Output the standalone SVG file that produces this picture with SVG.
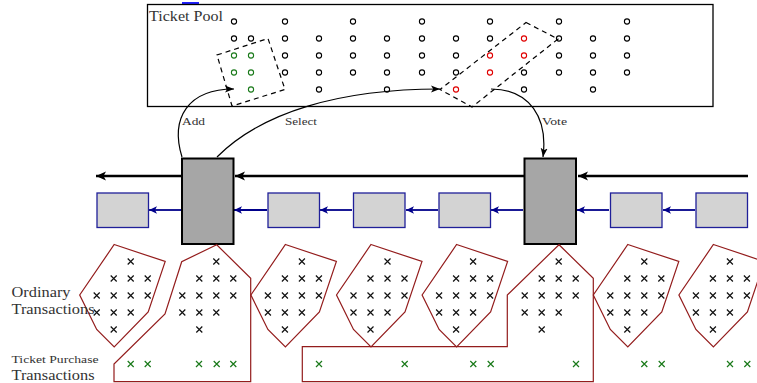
<svg xmlns="http://www.w3.org/2000/svg" xmlns:xlink="http://www.w3.org/1999/xlink" width="757" height="383" viewBox="0 0 757 383">
<style>
.lbl{font-family:"Liberation Serif","DejaVu Serif",serif;fill:#333}
.c{fill:none;stroke:#000;stroke-width:1.1}
.cg{fill:none;stroke:#1a7a1a;stroke-width:1.1}
.cr{fill:none;stroke:#e00000;stroke-width:1.1}
.x{stroke:#111;stroke-width:1.2;fill:none}
.xg{stroke:#1a7a1a;stroke-width:1.2;fill:none}
.red{fill:none;stroke:#931c1c;stroke-width:1.2;stroke-linejoin:miter}
.chain{stroke:#000;stroke-width:2.6;fill:none}
.link{stroke:#00008b;stroke-width:1.8;fill:none}
.blk{fill:#a6a6a6;stroke:#000;stroke-width:2}
.box{fill:#d3d3d3;stroke:#1f1f99;stroke-width:1.3}
.dash{fill:none;stroke:#000;stroke-width:1.2;stroke-dasharray:5,4}
.arc{fill:none;stroke:#000;stroke-width:1.2}
</style>
<defs>
<marker id="ah" markerUnits="userSpaceOnUse" markerWidth="12" markerHeight="10" refX="10" refY="5" orient="auto"><path d="M0,0.5 L10,5 L0,9.5 L2.5,5 z" fill="#000"/></marker>
<marker id="ahb" markerUnits="userSpaceOnUse" markerWidth="10" markerHeight="8" refX="8" refY="4" orient="auto"><path d="M0,0.3 L8,4 L0,7.7 L2,4 z" fill="#00008b"/></marker>
<marker id="aht" markerUnits="userSpaceOnUse" markerWidth="10" markerHeight="8" refX="9" refY="4" orient="auto"><path d="M0,0.5 L9,4 L0,7.5 L2.2,4 z" fill="#000"/></marker>
<path id="xm" d="M-3,-3 L3,3 M-3,3 L3,-3"/>
<g id="xs" class="x">
<use xlink:href="#xm" x="34" y="261.5"/>
<use xlink:href="#xm" x="17" y="278.5"/><use xlink:href="#xm" x="34" y="278.5"/><use xlink:href="#xm" x="51" y="278.5"/>
<use xlink:href="#xm" x="0" y="295.5"/><use xlink:href="#xm" x="17" y="295.5"/><use xlink:href="#xm" x="34" y="295.5"/><use xlink:href="#xm" x="51" y="295.5"/>
<use xlink:href="#xm" x="0" y="312.5"/><use xlink:href="#xm" x="17" y="312.5"/><use xlink:href="#xm" x="34" y="312.5"/>
<use xlink:href="#xm" x="17" y="329.5"/>
</g>
<g id="pent">
<polygon class="red" points="17.5,244.5 68.5,261.5 51.5,312 17.5,347 0,329.5 -17,295"/>
<use xlink:href="#xs"/>
</g>
</defs>
<rect width="757" height="383" fill="#fff"/>

<g id="ticket-pool">
<line x1="182" y1="3" x2="199" y2="3" stroke="#2020ff" stroke-width="2"/>
<rect x="147.5" y="4.5" width="565.5" height="102" fill="none" stroke="#000" stroke-width="1.3"/>
<text class="lbl" x="149" y="21" font-size="14" textLength="74" lengthAdjust="spacingAndGlyphs">Ticket Pool</text>
<g class="c">
<circle cx="234" cy="21.5" r="2.6"/><circle cx="285" cy="21.5" r="2.6"/><circle cx="353" cy="21.5" r="2.6"/><circle cx="422" cy="21.5" r="2.6"/><circle cx="490" cy="21.5" r="2.6"/><circle cx="559" cy="21.5" r="2.6"/><circle cx="627" cy="21.5" r="2.6"/>
<circle cx="234" cy="38.5" r="2.6"/><circle cx="251" cy="38.5" r="2.6"/><circle cx="285" cy="38.5" r="2.6"/><circle cx="319" cy="38.5" r="2.6"/><circle cx="353" cy="38.5" r="2.6"/><circle cx="387" cy="38.5" r="2.6"/><circle cx="422" cy="38.5" r="2.6"/><circle cx="456" cy="38.5" r="2.6"/><circle cx="490" cy="38.5" r="2.6"/><circle cx="559" cy="38.5" r="2.6"/><circle cx="593" cy="38.5" r="2.6"/><circle cx="627" cy="38.5" r="2.6"/>
<circle cx="285" cy="55.5" r="2.6"/><circle cx="319" cy="55.5" r="2.6"/><circle cx="353" cy="55.5" r="2.6"/><circle cx="387" cy="55.5" r="2.6"/><circle cx="422" cy="55.5" r="2.6"/><circle cx="456" cy="55.5" r="2.6"/><circle cx="559" cy="55.5" r="2.6"/><circle cx="593" cy="55.5" r="2.6"/><circle cx="627" cy="55.5" r="2.6"/>
<circle cx="285" cy="72.5" r="2.6"/><circle cx="319" cy="72.5" r="2.6"/><circle cx="353" cy="72.5" r="2.6"/><circle cx="387" cy="72.5" r="2.6"/><circle cx="422" cy="72.5" r="2.6"/><circle cx="456" cy="72.5" r="2.6"/><circle cx="524" cy="72.5" r="2.6"/><circle cx="559" cy="72.5" r="2.6"/><circle cx="593" cy="72.5" r="2.6"/><circle cx="627" cy="72.5" r="2.6"/>
<circle cx="319" cy="89.5" r="2.6"/><circle cx="387" cy="89.5" r="2.6"/><circle cx="524" cy="89.5" r="2.6"/><circle cx="593" cy="89.5" r="2.6"/>
</g>
<g class="cg">
<circle cx="234" cy="55.5" r="2.6"/><circle cx="251" cy="55.5" r="2.6"/><circle cx="234" cy="72.5" r="2.6"/><circle cx="251" cy="72.5" r="2.6"/><circle cx="251" cy="89.5" r="2.6"/>
</g>
<g class="cr">
<circle cx="524" cy="38.5" r="2.6"/><circle cx="490" cy="55.5" r="2.6"/><circle cx="524" cy="55.5" r="2.6"/><circle cx="490" cy="72.5" r="2.6"/><circle cx="456" cy="89.5" r="2.6"/>
</g>
<polygon class="dash" points="217,55 268,38.5 285,89.5 232,106"/>
<polygon class="dash" points="526,22.5 558,39 472,107 440,89.5"/>
</g>

<g id="connectors">
<path class="arc" d="M182,157 C170,118 188,89 234,89" marker-end="url(#aht)"/>
<path class="arc" d="M217,157 C262,112 340,89 440,89" marker-end="url(#aht)"/>
<path class="arc" d="M491,89 C530,89 548,118 543,157" marker-end="url(#aht)"/>
<text class="lbl" x="182" y="125" font-size="11" textLength="23" lengthAdjust="spacingAndGlyphs">Add</text>
<text class="lbl" x="285" y="125" font-size="11" textLength="32" lengthAdjust="spacingAndGlyphs">Select</text>
<text class="lbl" x="542" y="125" font-size="11" textLength="25" lengthAdjust="spacingAndGlyphs">Vote</text>
<path class="chain" d="M748,176 L578,176" marker-end="url(#ah)"/>
<path class="chain" d="M524,176 L235,176" marker-end="url(#ah)"/>
<path class="chain" d="M181,176 L96,176" marker-end="url(#ah)"/>
<path class="link" d="M181,210 L149,210" marker-end="url(#ahb)"/>
<path class="link" d="M267,210 L234,210" marker-end="url(#ahb)"/>
<path class="link" d="M352,210 L320,210" marker-end="url(#ahb)"/>
<path class="link" d="M438,210 L406,210" marker-end="url(#ahb)"/>
<path class="link" d="M523,210 L491,210" marker-end="url(#ahb)"/>
<path class="link" d="M609,210 L577,210" marker-end="url(#ahb)"/>
<path class="link" d="M695,210 L663,210" marker-end="url(#ahb)"/>
</g>

<g id="key-block-1"><rect class="blk" x="182" y="158.5" width="51.5" height="85.5"/></g>
<g id="key-block-2"><rect class="blk" x="524.5" y="158.5" width="51.5" height="85.5"/></g>
<g id="box-0"><rect class="box" x="97" y="193" width="51.5" height="34.5"/></g>
<g id="box-2"><rect class="box" x="268" y="193" width="51.5" height="34.5"/></g>
<g id="box-3"><rect class="box" x="353.5" y="193" width="51.5" height="34.5"/></g>
<g id="box-4"><rect class="box" x="439" y="193" width="51.5" height="34.5"/></g>
<g id="box-6"><rect class="box" x="610.5" y="193" width="51.5" height="34.5"/></g>
<g id="box-7"><rect class="box" x="696" y="193" width="51.5" height="34.5"/></g>

<g id="txs-0"><use xlink:href="#pent" x="96.7"/></g>
<g id="txs-2"><use xlink:href="#pent" x="267.9"/></g>
<g id="txs-3"><use xlink:href="#pent" x="353.5"/></g>
<g id="txs-4"><use xlink:href="#pent" x="439.1"/></g>
<g id="txs-6"><use xlink:href="#pent" x="610.3"/></g>
<g id="txs-7"><use xlink:href="#pent" x="695.9"/></g>
<g id="txs-1">
<polygon class="red" points="216.7,244.7 181.7,261.7 165,314 114,364 114,381.7 250.7,381.7 250.7,278.3"/>
<use xlink:href="#xs" x="182.3"/>
</g>
<g id="txs-5">
<polygon class="red" points="559,244.7 507.3,295 507.3,346.7 302.3,346.7 302.3,381.7 593.3,381.7 593.3,278.3"/>
<use xlink:href="#xs" x="524.7"/>
</g>
<g id="ticket-txs" class="xg">
<use xlink:href="#xm" x="130.7" y="364"/><use xlink:href="#xm" x="147.7" y="364"/><use xlink:href="#xm" x="199" y="364"/><use xlink:href="#xm" x="216.7" y="364"/><use xlink:href="#xm" x="233.3" y="364"/>
<use xlink:href="#xm" x="319" y="364"/><use xlink:href="#xm" x="404.7" y="364"/><use xlink:href="#xm" x="473.3" y="364"/><use xlink:href="#xm" x="490.7" y="364"/><use xlink:href="#xm" x="576" y="364"/>
<use xlink:href="#xm" x="644.3" y="364"/><use xlink:href="#xm" x="661.7" y="364"/><use xlink:href="#xm" x="730" y="364"/><use xlink:href="#xm" x="747.3" y="364"/>
</g>
<g id="labels">
<text class="lbl" x="11.5" y="297" font-size="14.5" textLength="59" lengthAdjust="spacingAndGlyphs">Ordinary</text>
<text class="lbl" x="11.5" y="313.5" font-size="14.5" textLength="83" lengthAdjust="spacingAndGlyphs">Transactions</text>
<text class="lbl" x="11.5" y="363" font-size="11" textLength="87" lengthAdjust="spacingAndGlyphs">Ticket Purchase</text>
<text class="lbl" x="11.5" y="380" font-size="14.5" textLength="83" lengthAdjust="spacingAndGlyphs">Transactions</text>
</g>
</svg>
